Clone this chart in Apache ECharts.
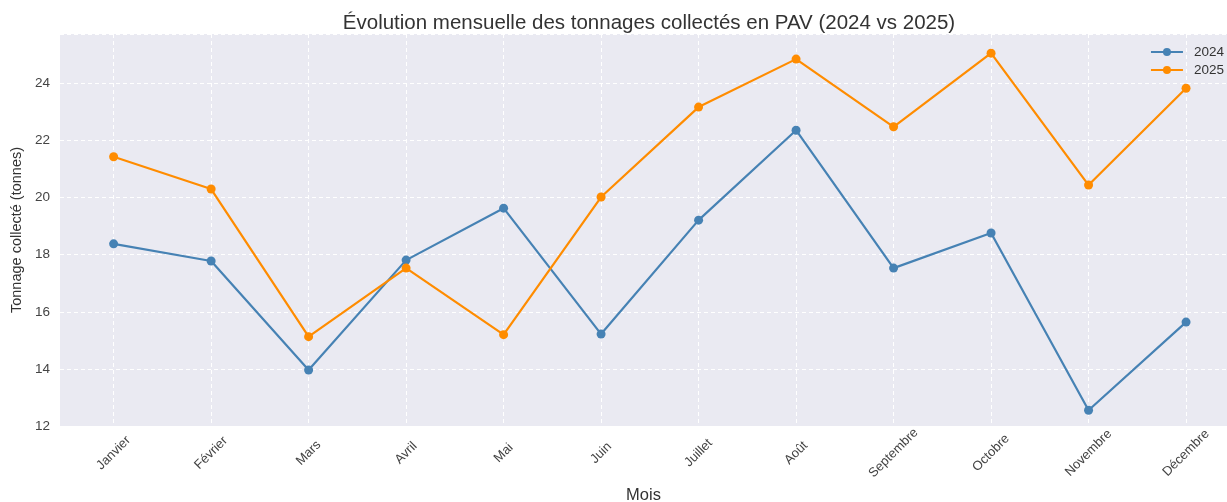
<!DOCTYPE html>
<html>
<head>
<meta charset="utf-8">
<script src="https://cdn.jsdelivr.net/npm/echarts@6/dist/echarts.min.js"></script>
<style>
  html, body { margin: 0; padding: 0; background: #fff; }
  #chart { width: 1227px; height: 502px; }
</style>
</head>
<body>
<div id="chart"></div>
<script>
// months on the x axis
const mois = ['Janvier', 'Février', 'Mars', 'Avril', 'Mai', 'Juin',
  'Juillet', 'Août', 'Septembre', 'Octobre', 'Novembre', 'Décembre'];

// tonnages
const tonnage2024 = [18.38, 17.78, 13.96, 17.81, 19.63, 15.22, 19.21, 22.36, 17.53, 18.76, 12.55, 15.64];
const tonnage2025 = [21.43, 20.30, 15.13, 17.53, 15.20, 20.02, 23.17, 24.85, 22.48, 25.06, 20.44, 23.83];

const yTicks = [12, 14, 16, 18, 20, 22, 24];
const xTicks = mois.map((m, i) => i);

const font = 'Liberation Sans, Arial, sans-serif';
const bleu = '#4682B4';
const orange = '#FF8C00';

const chart = echarts.init(document.getElementById('chart'));

const toPoints = arr => arr.map((v, i) => [i, v]);

const option = {
  animation: false,
  textStyle: { fontFamily: font },
  title: {
    text: 'Évolution mensuelle des tonnages collectés en PAV (2024 vs 2025)',
    left: 644,
    textAlign: 'center',
    top: 8,
    textStyle: { fontSize: 20.5, fontWeight: 'normal', color: '#333', fontFamily: font },
  },
  legend: {
    orient: 'vertical',
    right: 3,
    top: 45,
    padding: 0,
    itemWidth: 32,
    itemHeight: 10,
    itemGap: 4,
    textStyle: { fontSize: 13.5, color: '#333', fontFamily: font, padding: [0, 0, 0, 6] },
    data: ['2024', '2025'],
  },
  grid: {
    left: 60,
    right: 0,
    top: 34,
    bottom: 76,
    outerBoundsMode: 'none',
    containLabel: false,
    show: true,
    backgroundColor: '#EAEAF2',
    borderWidth: 0,
  },
  xAxis: {
    type: 'value',
    min: -0.55,
    max: 11.42,
    name: 'Mois',
    nameLocation: 'middle',
    nameGap: 61,
    nameTextStyle: { fontSize: 16.5, color: '#333', fontFamily: font },
    axisLine: { show: false },
    axisTick: { show: false, customValues: xTicks },
    axisLabel: {
      customValues: xTicks,
      rotate: 45,
      align: 'center',
      verticalAlign: 'middle',
      margin: 27,
      fontSize: 13,
      color: '#444',
      formatter: v => mois[v],
    },
    splitLine: { show: true, lineStyle: { color: '#ffffff', type: [4, 3], width: 1 } },
  },
  yAxis: {
    type: 'value',
    min: 12,
    max: 25.73,
    interval: 2,
    name: 'Tonnage collecté (tonnes)',
    nameLocation: 'middle',
    nameGap: 33,
    nameTextStyle: { fontSize: 14.5, color: '#333', fontFamily: font },
    axisLine: { show: false },
    axisTick: { show: false },
    axisLabel: {
      customValues: yTicks,
      fontSize: 13.5,
      color: '#444',
      margin: 10,
    },
    splitLine: { show: true, lineStyle: { color: '#ffffff', type: [4, 3], width: 1 } },
  },
  series: [
    {
      name: '2024',
      type: 'line',
      data: toPoints(tonnage2024),
      symbol: 'circle',
      symbolSize: 9,
      itemStyle: { color: bleu },
      lineStyle: { color: bleu, width: 2.2 },
    },
    {
      name: '2025',
      type: 'line',
      data: toPoints(tonnage2025),
      symbol: 'circle',
      symbolSize: 9,
      itemStyle: { color: orange },
      lineStyle: { color: orange, width: 2.2 },
    },
  ],
};

chart.setOption(option);
</script>
</body>
</html>
